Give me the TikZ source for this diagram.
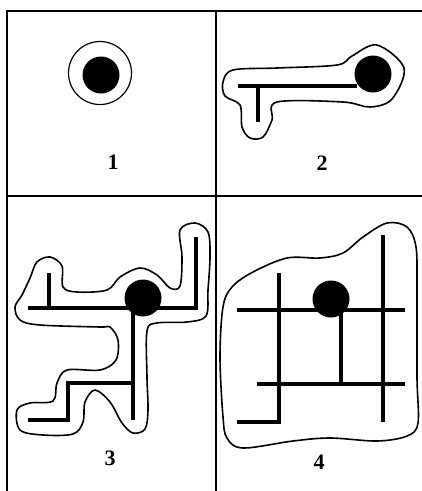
\documentclass[tikz,border=0pt]{standalone}
\usepackage{fontspec}
\setmainfont{Liberation Serif}
\usepackage{tikz}
\usetikzlibrary{positioning}

\begin{document}
\begin{tikzpicture}[
        x=1pt, y=-1pt,
        frame/.style={line width=1.4pt},
        wall/.style={line width=3.4pt},
        rim/.style={line width=1.6pt, smooth cycle, tension=0.55},
        seed/.style={circle, fill=black, inner sep=0pt, minimum size=37pt},
        tag/.style={font=\fontsize{22}{24}\selectfont\bfseries}
    ]
    \useasboundingbox (0,0) rectangle (422,491);
%
    \draw[frame] (7,491) -- (7,11) -- (422,11);
    \draw[frame] (216,11) -- (216,491);
    \draw[frame] (7,196) -- (422,196);
%
    % panel 1
    \node[seed] (s1) at (101,75) {};
    \draw[line width=1.2pt] (100,73) circle (31.5);
    \node[tag] (n1) at (113,162) {1};
%
    % panel 2
    \node[seed] (s2) at (373,74) {};
    \draw[wall] (238,86) -- (357,86);
    \draw[wall] (258,86) -- (258,122);
    \draw[rim] plot coordinates {(223,82) (233,70) (277,68) (337,65) (352,56) (377,45)
        (404,68) (392,99) (370,107) (343,102) (277,102) (272,120) (263,137) (250,138)
        (242,127) (240,105) (225,96)};
    \node[tag] (n2) at (322,163) {2};
%
    % panel 3
    \node[seed] (s3) at (143,298) {};
    \draw[wall] (28,308) -- (196,308) -- (196,237);
    \draw[wall] (49,273) -- (49,308);
    \draw[wall] (133,308) -- (133,420);
    \draw[wall] (133,383) -- (68,383) -- (68,420) -- (28,420);
    \draw[rim] plot coordinates {(30,278) (37,262) (50,257) (62,266) (63,287) (77,292)
        (107,290) (120,277) (140,268) (157,275) (170,288) (180,286) (182,257) (180,230)
        (195,223) (208,232) (210,257) (208,290) (206,316) (187,322) (157,323) (147,331)
        (147,377) (148,410) (145,429) (133,433) (122,423) (110,402) (95,390) (85,402)
        (83,422) (73,434) (43,435) (20,430) (17,410) (30,403) (53,401) (57,383) (67,370)
        (100,370) (116,360) (118,340) (110,327) (100,327) (40,325) (20,320) (15,307)
        (22,295)};
    \node[tag] (n3) at (110,458) {3};
%
    % panel 4
    \node[seed] (s4) at (331,299) {};
    \draw[wall] (237,310) -- (405,310);
    \draw[wall] (279,273) -- (279,422) -- (237,422);
    \draw[wall] (341,310) -- (341,384);
    \draw[wall] (257,384) -- (405,384);
    \draw[wall] (383,235) -- (383,422);
    \draw[rim] plot coordinates {(223,307) (232,287) (253,272) (287,258) (320,258)
        (343,253) (363,237) (387,223) (407,227) (416,247) (417,290) (417,377) (418,423)
        (407,436) (377,441) (330,438) (293,441) (243,448) (227,438) (223,417) (220,357)};
    \node[tag] (n4) at (319,462) {4};
%
\end{tikzpicture}
\end{document}
